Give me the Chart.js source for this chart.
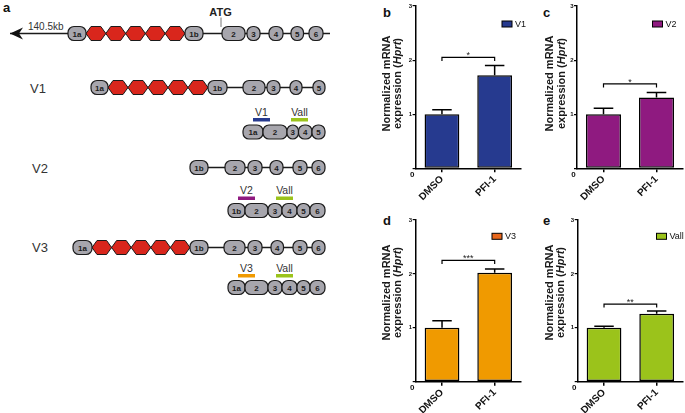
<!DOCTYPE html>
<html>
<head>
<meta charset="utf-8">
<script src="https://cdn.jsdelivr.net/npm/chart.js@4.4.0/dist/chart.umd.min.js"></script>
<style>
  html, body { margin: 0; padding: 0; background: #fff; }
  #page { position: relative; width: 685px; height: 413px; overflow: hidden; font-family: Arial, "Liberation Sans", sans-serif; }
  #diagram { position: absolute; left: 0; top: 0; }
  canvas { position: absolute; }
</style>
</head>
<body>
<div id="page">
  <svg id="diagram" width="685" height="413" font-family="Arial, 'Liberation Sans', sans-serif"></svg>
  <canvas id="chart-b" width="158" height="210" style="left:370px;top:0px"></canvas>
  <canvas id="chart-c" width="158" height="210" style="left:527px;top:0px"></canvas>
  <canvas id="chart-d" width="158" height="203" style="left:370px;top:210px"></canvas>
  <canvas id="chart-e" width="158" height="203" style="left:527px;top:210px"></canvas>
</div>
<script>
// chart data
const categories = ["DMSO", "PFI-1"];
const yTicks = [0, 1, 2, 3];
const v1Mean = [1.0, 1.72];
const v1Err = [0.08, 0.18];
const v2Mean = [1.0, 1.31];
const v2Err = [0.11, 0.09];
const v3Mean = [1.0, 2.02];
const v3Err = [0.13, 0.07];
const vallMean = [1.0, 1.26];
const vallErr = [0.03, 0.05];
const seriesNames = ["V1", "V2", "V3", "Vall"];
const sigMarks = ["*", "*", "***", "**"];
const sigLevels = [2.05, 1.56, 2.25, 1.44];

const FONT = "Arial, 'Liberation Sans', sans-serif";
Chart.defaults.font.family = FONT;
Chart.defaults.color = "#000";

// error bars, significance bracket, legend, axis title
const extras = {
  id: "extras",
  afterDatasetsDraw(chart, args, o) {
    const ctx = chart.ctx;
    const y = chart.scales.y;
    const meta = chart.getDatasetMeta(0);
    const values = chart.data.datasets[0].data;
    ctx.save();
    ctx.strokeStyle = "#000";
    ctx.lineWidth = 1.5;
    meta.data.forEach((bar, i) => {
      const top = y.getPixelForValue(values[i] + o.errors[i]);
      const half = bar.width * 0.28;
      ctx.beginPath();
      ctx.moveTo(bar.x, bar.y);
      ctx.lineTo(bar.x, top);
      ctx.moveTo(bar.x - half, top);
      ctx.lineTo(bar.x + half, top);
      ctx.stroke();
    });

    // bracket
    const by = y.getPixelForValue(o.level);
    const x0 = meta.data[0].x, x1 = meta.data[1].x;
    ctx.lineWidth = 1.2;
    ctx.beginPath();
    ctx.moveTo(x0, by + 3.5);
    ctx.lineTo(x0, by);
    ctx.lineTo(x1, by);
    ctx.lineTo(x1, by + 3.5);
    ctx.stroke();
    ctx.fillStyle = "#222";
    ctx.font = "9px " + FONT;
    ctx.textAlign = "center";
    ctx.textBaseline = "alphabetic";
    ctx.fillText(o.mark, (x0 + x1) / 2, by + 1);
    ctx.restore();
  },
  afterDraw(chart, args, o) {
    const ctx = chart.ctx;
    const area = chart.chartArea;
    ctx.save();
    // legend
    ctx.fillStyle = o.boxColor;
    ctx.fillRect(o.legendX, o.legendY, 10, 6);
    ctx.strokeStyle = "#000";
    ctx.lineWidth = 1;
    ctx.strokeRect(o.legendX, o.legendY, 10, 6);
    ctx.fillStyle = "#111";
    ctx.font = "9px " + FONT;
    ctx.textAlign = "left";
    ctx.textBaseline = "middle";
    ctx.fillText(chart.data.datasets[0].label, o.legendX + 13, o.legendY + 3.5);

    // zero label
    ctx.font = "bold 8px " + FONT;
    ctx.textAlign = "center";
    ctx.fillText("0", area.left - 3.5, area.bottom + 6);

    // axis title, two lines, Hprt in italics
    ctx.fillStyle = "#1a1a1a";
    ctx.translate(o.titleX1, o.titleY);
    ctx.rotate(-Math.PI / 2);
    ctx.font = "bold 11px " + FONT;
    ctx.textAlign = "center";
    ctx.fillText("Normalized mRNA", 0, 0);
    ctx.restore();

    ctx.save();
    ctx.fillStyle = "#1a1a1a";
    ctx.translate(o.titleX2, o.titleY);
    ctx.rotate(-Math.PI / 2);
    ctx.textBaseline = "middle";
    ctx.textAlign = "left";
    const parts = [["expression (", "bold 11px "], ["Hprt", "italic bold 11px "], [")", "bold 11px "]];
    let total = 0;
    parts.forEach(p => { ctx.font = p[1] + FONT; total += ctx.measureText(p[0]).width; });
    let x = -total / 2;
    parts.forEach(p => {
      ctx.font = p[1] + FONT;
      ctx.fillText(p[0], x, 0);
      x += ctx.measureText(p[0]).width;
    });
    ctx.restore();
  }
};

function makeChart(id, means, errors, name, barColor, boxColor, mark, level, g) {
  return new Chart(document.getElementById(id), {
    type: "bar",
    data: {
      labels: categories,
      datasets: [{
        label: name,
        data: means,
        backgroundColor: barColor,
        borderColor: "#000",
        borderWidth: 1.5,
        borderSkipped: false,
        barPercentage: 0.66,
        categoryPercentage: 1.0
      }]
    },
    options: {
      responsive: false,
      animation: false,
      layout: { padding: { top: g.padTop, right: g.padRight, left: 0, bottom: 0 } },
      plugins: {
        legend: { display: false },
        tooltip: { enabled: false },
        extras: {
          errors, mark, level, boxColor,
          legendX: g.legendX, legendY: g.legendY,
          titleX1: g.titleX1, titleX2: g.titleX2, titleY: g.titleY
        }
      },
      scales: {
        x: {
          grid: { display: true, drawOnChartArea: false, offset: false, tickLength: 4, color: "#000", lineWidth: 1.5 },
          border: { display: true, color: "#000", width: 1.5 },
          ticks: { font: { size: 10, weight: "bold" }, color: "#111", minRotation: 45, maxRotation: 45, padding: 1 },
          afterFit: s => { s.height = g.xHeight; }
        },
        y: {
          min: yTicks[0],
          max: yTicks[yTicks.length - 1],
          afterBuildTicks: s => { s.ticks = yTicks.map(v => ({ value: v })); },
          grid: { display: true, drawOnChartArea: false, tickLength: 3, color: "#000", lineWidth: 1.2 },
          border: { display: true, color: "#000", width: 1.5 },
          ticks: { font: { size: 6, weight: "bold" }, color: "#111", padding: 0.5, callback: v => (v === 0 ? "" : v) },
          afterFit: s => { s.width = g.yWidth; }
        }
      }
    },
    plugins: [extras]
  });
}

makeChart("chart-b", v1Mean, v1Err, seriesNames[0], "#263a8f", "#263a8f", sigMarks[0], sigLevels[0],
  { padTop: 6, padRight: 7, yWidth: 45.6, xHeight: 41.7, legendX: 132, legendY: 21, titleX1: 16.7, titleX2: 28.3, titleY: 83.5 });
makeChart("chart-c", v2Mean, v2Err, seriesNames[1], "#8f1a80", "#8f1a80", sigMarks[1], sigLevels[1],
  { padTop: 6, padRight: 2, yWidth: 50, xHeight: 41.7, legendX: 125.5, legendY: 21, titleX1: 23, titleX2: 34.7, titleY: 83.5 });
makeChart("chart-d", v3Mean, v3Err, seriesNames[2], "#f09a00", "#e8671c", sigMarks[2], sigLevels[2],
  { padTop: 10, padRight: 7, yWidth: 45.7, xHeight: 31.3, legendX: 122, legendY: 23.3, titleX1: 16.7, titleX2: 28.3, titleY: 82.5 });
makeChart("chart-e", vallMean, vallErr, seriesNames[3], "#9bc31b", "#9bc31b", sigMarks[3], sigLevels[3],
  { padTop: 10, padRight: 2, yWidth: 50.7, xHeight: 31.3, legendX: 129.5, legendY: 23.3, titleX1: 23, titleX2: 34.3, titleY: 82.5 });

// gene diagram (panel a)
const NS = "http://www.w3.org/2000/svg";
const svg = document.getElementById("diagram");
function add(tag, attrs, text) {
  const e = document.createElementNS(NS, tag);
  for (const k in attrs) e.setAttribute(k, attrs[k]);
  if (text) e.textContent = text;
  svg.appendChild(e);
  return e;
}
function exon(x, w, cy, name) {
  add("rect", { x, y: cy - 7, width: w, height: 14, rx: 6, fill: "#a7a6ad", stroke: "#1b1b1b", "stroke-width": 1.2 });
  add("text", { x: x + w / 2, y: cy + 3, "text-anchor": "middle", "font-size": 8, "font-weight": "bold", fill: "#1b1b1b" }, name);
}
function hexes(x0, x1, cy) {
  const w = (x1 - x0) / 5;
  for (let i = 0; i < 5; i++) {
    const x = x0 + i * w;
    const pts = [[x, cy], [x + 5, cy - 7], [x + w - 5, cy - 7], [x + w, cy], [x + w - 5, cy + 7], [x + 5, cy + 7]];
    add("polygon", { points: pts.map(p => p.join(",")).join(" "), fill: "#d9261c", stroke: "#1b1b1b", "stroke-width": 1 });
  }
}

const rows = [
  { cy: 33.5, from: 10, to: 330, hex: [86, 185],
    exons: [[68, 18, "1a"], [185, 18, "1b"], [222, 23, "2"], [247, 13, "3"], [269, 14, "4"], [291, 12.5, "5"], [309, 14, "6"]] },
  { cy: 87.5, from: 91, to: 325, hex: [108, 208],
    exons: [[91, 17, "1a"], [208, 19, "1b"], [243, 22, "2"], [267, 13, "3"], [290, 12, "4"], [313, 12, "5"]] },
  { cy: 132,
    exons: [[243, 20, "1a"], [263, 24, "2"], [287, 11.5, "3"], [298.5, 13.5, "4"], [312, 13, "5"]] },
  { cy: 167.5, from: 190, to: 325,
    exons: [[190, 18, "1b"], [225, 20, "2"], [248, 14, "3"], [270, 13, "4"], [293, 14, "5"], [312, 13, "6"]] },
  { cy: 210.5,
    exons: [[228, 17, "1b"], [245, 23, "2"], [268, 14, "3"], [282, 15, "4"], [297, 13, "5"], [310, 15, "6"]] },
  { cy: 247.5, from: 73, to: 325, hex: [92, 190],
    exons: [[73, 19, "1a"], [190, 18, "1b"], [224, 21, "2"], [248, 14, "3"], [271, 12.5, "4"], [293, 14, "5"], [312, 13, "6"]] },
  { cy: 287.5,
    exons: [[228, 17, "1a"], [245, 23, "2"], [268, 14, "3"], [282, 15, "4"], [297, 13, "5"], [310, 15, "6"]] }
];

rows.forEach(r => {
  if (r.from !== undefined) add("line", { x1: r.from, y1: r.cy, x2: r.to, y2: r.cy, stroke: "#1b1b1b", "stroke-width": 1.3 });
  if (r.hex) hexes(r.hex[0], r.hex[1], r.cy);
  r.exons.forEach(e => exon(e[0], e[1], r.cy, e[2]));
});

// arrow and labels on the genomic row
add("polygon", { points: "10,33.5 23,27.5 19,33.5 23,39.5", fill: "#111" });
add("text", { x: 28, y: 30, "font-size": 10, fill: "#333" }, "140.5kb");
add("text", { x: 220.5, y: 15.5, "text-anchor": "middle", "font-size": 11, "font-weight": "bold", fill: "#222" }, "ATG");
add("line", { x1: 221, y1: 17.5, x2: 221, y2: 27, stroke: "#777", "stroke-width": 1 });

// row labels
[["V1", 30, 92.5], ["V2", 32, 172.5], ["V3", 32, 252]].forEach(t =>
  add("text", { x: t[1], y: t[2], "font-size": 13, fill: "#333" }, t[0]));

// primer marks
const primers = [
  ["V1", 253, 118, "#263a8f"], ["Vall", 291, 118, "#9bc31b"],
  ["V2", 238, 196.5, "#8f1a80"], ["Vall", 276, 196.5, "#9bc31b"],
  ["V3", 238, 274, "#f09a00"], ["Vall", 276, 274, "#9bc31b"]
];
primers.forEach(p => {
  add("rect", { x: p[1], y: p[2], width: 17, height: 3.5, fill: p[3] });
  add("text", { x: p[1] + 8.5, y: p[2] - 2.5, "text-anchor": "middle", "font-size": 10.5, fill: "#333" }, p[0]);
});

// panel letters
[["a", 3, 12], ["b", 383, 17], ["c", 543, 16.5], ["d", 383, 225], ["e", 543, 225]].forEach(t =>
  add("text", { x: t[1], y: t[2], "font-size": 13, "font-weight": "bold", fill: "#111" }, t[0]));
</script>
</body>
</html>
